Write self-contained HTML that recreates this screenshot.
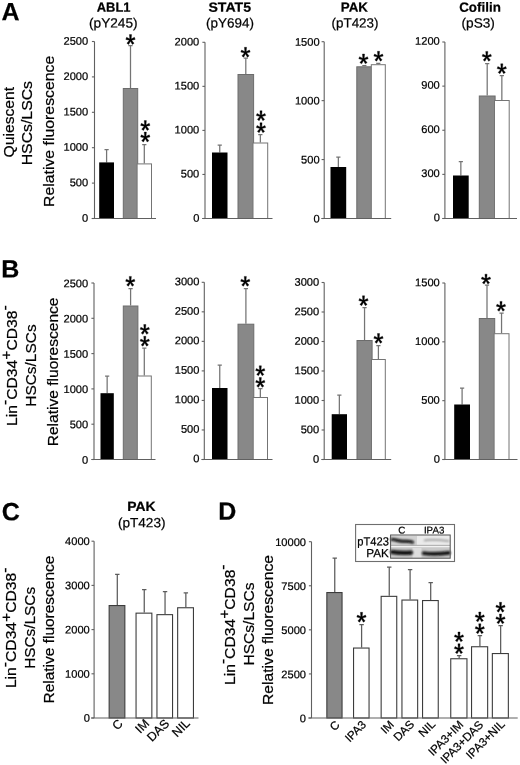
<!DOCTYPE html>
<html><head><meta charset="utf-8"><title>Figure</title>
<style>
html,body{margin:0;padding:0;background:#fff;}
body{width:520px;height:765px;overflow:hidden;font-family:"Liberation Sans", sans-serif;}
svg{display:block;font-family:"Liberation Sans", sans-serif;will-change:transform;opacity:0.999;}
text{fill:#000;stroke:#000;stroke-width:0.22px;}
</style></head><body>
<svg width="520" height="765" viewBox="0 0 520 765">
<defs>
<filter id="bl" x="-10%" y="-50%" width="120%" height="200%"><feGaussianBlur stdDeviation="0.85"/></filter>
<filter id="bl2" x="-10%" y="-30%" width="120%" height="160%"><feGaussianBlur stdDeviation="0.6"/></filter>
<g id="st"><path transform="translate(-0.2 0.15)" d="M0.60 0.30 L1.08 -5.35 L-1.07 -5.35 L-0.60 0.30ZM-0.08 0.67 L4.69 -0.56 L3.95 -2.58 L-0.49 -0.46ZM-0.66 0.10 L1.84 4.51 L3.61 3.27 L0.32 -0.59ZM-0.32 -0.59 L-3.61 3.27 L-1.84 4.51 L0.66 0.10ZM0.49 -0.46 L-3.95 -2.58 L-4.69 -0.56 L0.08 0.67Z" fill="#000" stroke="#000" stroke-width="0.35" stroke-linejoin="round"/></g>
</defs>
<rect width="520" height="765" fill="#fff"/>
<path d="M106.60 162.40V149.50M104.50 149.50H108.70" stroke="#747474" stroke-width="1.25" fill="none"/>
<rect x="99.20" y="162.40" width="14.80" height="56.10" fill="#000"/>
<path d="M130.50 88.00V45.50M128.40 45.50H132.60" stroke="#747474" stroke-width="1.25" fill="none"/>
<rect x="123.30" y="88.50" width="14.40" height="130.00" fill="#888" stroke="#6c6c6c" stroke-width="1"/>
<path d="M144.30 163.40V144.50M142.20 144.50H146.40" stroke="#747474" stroke-width="1.25" fill="none"/>
<rect x="137.10" y="163.90" width="14.40" height="54.60" fill="#fff" stroke="#747474" stroke-width="1"/>
<line x1="94.5" y1="41.5" x2="94.5" y2="218.5" stroke="#606060" stroke-width="1.1"/>
<line x1="91.7" y1="218.5" x2="156" y2="218.5" stroke="#606060" stroke-width="1.1"/>
<line x1="91.9" y1="41.5" x2="94.5" y2="41.5" stroke="#606060" stroke-width="1.1"/>
<text transform="translate(88.15 44.65) rotate(0.04)" font-size="11.1" text-anchor="end">2500</text>
<line x1="91.9" y1="76.9" x2="94.5" y2="76.9" stroke="#606060" stroke-width="1.1"/>
<text transform="translate(88.15 80.05) rotate(0.04)" font-size="11.1" text-anchor="end">2000</text>
<line x1="91.9" y1="112.3" x2="94.5" y2="112.3" stroke="#606060" stroke-width="1.1"/>
<text transform="translate(88.15 115.45) rotate(0.04)" font-size="11.1" text-anchor="end">1500</text>
<line x1="91.9" y1="147.7" x2="94.5" y2="147.7" stroke="#606060" stroke-width="1.1"/>
<text transform="translate(88.15 150.85) rotate(0.04)" font-size="11.1" text-anchor="end">1000</text>
<line x1="91.9" y1="183.1" x2="94.5" y2="183.1" stroke="#606060" stroke-width="1.1"/>
<text transform="translate(88.15 186.25) rotate(0.04)" font-size="11.1" text-anchor="end">500</text>
<line x1="91.9" y1="218.5" x2="94.5" y2="218.5" stroke="#606060" stroke-width="1.1"/>
<text transform="translate(88.15 221.65) rotate(0.04)" font-size="11.1" text-anchor="end">0</text>
<use href="#st" x="130.70" y="39.80"/>
<use href="#st" x="145.50" y="125.80"/>
<use href="#st" x="145.50" y="137.30"/>
<path d="M219.75 152.50V145.00M217.65 145.00H221.85" stroke="#747474" stroke-width="1.25" fill="none"/>
<rect x="212.00" y="152.50" width="15.50" height="66.00" fill="#000"/>
<path d="M245.80 74.00V58.00M243.70 58.00H247.90" stroke="#747474" stroke-width="1.25" fill="none"/>
<rect x="238.00" y="74.50" width="15.60" height="144.00" fill="#888" stroke="#6c6c6c" stroke-width="1"/>
<path d="M260.35 142.50V134.50M258.25 134.50H262.45" stroke="#747474" stroke-width="1.25" fill="none"/>
<rect x="253.00" y="143.00" width="14.70" height="75.50" fill="#fff" stroke="#747474" stroke-width="1"/>
<line x1="205.0" y1="42.3" x2="205.0" y2="218.5" stroke="#606060" stroke-width="1.1"/>
<line x1="202.2" y1="218.5" x2="272.5" y2="218.5" stroke="#606060" stroke-width="1.1"/>
<line x1="202.4" y1="42.3" x2="205.0" y2="42.3" stroke="#606060" stroke-width="1.1"/>
<text transform="translate(199.30 45.45) rotate(0.04)" font-size="11.1" text-anchor="end">2000</text>
<line x1="202.4" y1="86.35" x2="205.0" y2="86.35" stroke="#606060" stroke-width="1.1"/>
<text transform="translate(199.30 89.50) rotate(0.04)" font-size="11.1" text-anchor="end">1500</text>
<line x1="202.4" y1="130.39999999999998" x2="205.0" y2="130.39999999999998" stroke="#606060" stroke-width="1.1"/>
<text transform="translate(199.30 133.55) rotate(0.04)" font-size="11.1" text-anchor="end">1000</text>
<line x1="202.4" y1="174.45" x2="205.0" y2="174.45" stroke="#606060" stroke-width="1.1"/>
<text transform="translate(199.30 177.60) rotate(0.04)" font-size="11.1" text-anchor="end">500</text>
<line x1="202.4" y1="218.5" x2="205.0" y2="218.5" stroke="#606060" stroke-width="1.1"/>
<text transform="translate(199.30 221.65) rotate(0.04)" font-size="11.1" text-anchor="end">0</text>
<use href="#st" x="245.70" y="52.50"/>
<use href="#st" x="261.20" y="116.00"/>
<use href="#st" x="261.20" y="128.00"/>
<path d="M338.35 167.00V157.00M336.25 157.00H340.45" stroke="#747474" stroke-width="1.25" fill="none"/>
<rect x="330.50" y="167.00" width="15.70" height="51.50" fill="#000"/>
<path d="M364.35 66.30V65.50M362.25 65.50H366.45" stroke="#747474" stroke-width="1.25" fill="none"/>
<rect x="356.80" y="66.80" width="15.10" height="151.70" fill="#888" stroke="#6c6c6c" stroke-width="1"/>
<path d="M378.30 64.20V63.40M376.20 63.40H380.40" stroke="#747474" stroke-width="1.25" fill="none"/>
<rect x="371.30" y="64.70" width="14.00" height="153.80" fill="#fff" stroke="#747474" stroke-width="1"/>
<line x1="324.2" y1="41.7" x2="324.2" y2="218.5" stroke="#606060" stroke-width="1.1"/>
<line x1="321.4" y1="218.5" x2="391.2" y2="218.5" stroke="#606060" stroke-width="1.1"/>
<line x1="321.59999999999997" y1="41.7" x2="324.2" y2="41.7" stroke="#606060" stroke-width="1.1"/>
<text transform="translate(319.60 45.65) rotate(0.04)" font-size="11.1" text-anchor="end">1500</text>
<line x1="321.59999999999997" y1="100.63333333333334" x2="324.2" y2="100.63333333333334" stroke="#606060" stroke-width="1.1"/>
<text transform="translate(319.60 104.58) rotate(0.04)" font-size="11.1" text-anchor="end">1000</text>
<line x1="321.59999999999997" y1="159.56666666666666" x2="324.2" y2="159.56666666666666" stroke="#606060" stroke-width="1.1"/>
<text transform="translate(319.60 163.52) rotate(0.04)" font-size="11.1" text-anchor="end">500</text>
<line x1="321.59999999999997" y1="218.50000000000006" x2="324.2" y2="218.50000000000006" stroke="#606060" stroke-width="1.1"/>
<text transform="translate(319.60 222.45) rotate(0.04)" font-size="11.1" text-anchor="end">0</text>
<use href="#st" x="363.70" y="59.20"/>
<use href="#st" x="378.70" y="56.50"/>
<path d="M460.85 175.50V161.70M458.75 161.70H462.95" stroke="#747474" stroke-width="1.25" fill="none"/>
<rect x="453.00" y="175.50" width="15.70" height="43.00" fill="#000"/>
<path d="M487.20 95.50V63.70M485.10 63.70H489.30" stroke="#747474" stroke-width="1.25" fill="none"/>
<rect x="479.30" y="96.00" width="15.80" height="122.50" fill="#888" stroke="#6c6c6c" stroke-width="1"/>
<path d="M501.85 100.00V75.50M499.75 75.50H503.95" stroke="#747474" stroke-width="1.25" fill="none"/>
<rect x="494.50" y="100.50" width="14.70" height="118.00" fill="#fff" stroke="#747474" stroke-width="1"/>
<line x1="444.9" y1="42" x2="444.9" y2="218.5" stroke="#606060" stroke-width="1.1"/>
<line x1="442.5" y1="218.5" x2="517" y2="218.5" stroke="#606060" stroke-width="1.1"/>
<line x1="442.29999999999995" y1="42.0" x2="444.9" y2="42.0" stroke="#606060" stroke-width="1.1"/>
<text transform="translate(439.80 44.65) rotate(0.04)" font-size="11.1" text-anchor="end">1200</text>
<line x1="442.29999999999995" y1="86.125" x2="444.9" y2="86.125" stroke="#606060" stroke-width="1.1"/>
<text transform="translate(439.80 88.78) rotate(0.04)" font-size="11.1" text-anchor="end">900</text>
<line x1="442.29999999999995" y1="130.25" x2="444.9" y2="130.25" stroke="#606060" stroke-width="1.1"/>
<text transform="translate(439.80 132.90) rotate(0.04)" font-size="11.1" text-anchor="end">600</text>
<line x1="442.29999999999995" y1="174.375" x2="444.9" y2="174.375" stroke="#606060" stroke-width="1.1"/>
<text transform="translate(439.80 177.03) rotate(0.04)" font-size="11.1" text-anchor="end">300</text>
<line x1="442.29999999999995" y1="218.5" x2="444.9" y2="218.5" stroke="#606060" stroke-width="1.1"/>
<text transform="translate(439.80 221.15) rotate(0.04)" font-size="11.1" text-anchor="end">0</text>
<use href="#st" x="487.00" y="56.60"/>
<use href="#st" x="502.00" y="69.00"/>
<path d="M107.15 393.20V376.20M105.05 376.20H109.25" stroke="#747474" stroke-width="1.25" fill="none"/>
<rect x="100.50" y="393.20" width="13.30" height="66.30" fill="#000"/>
<path d="M130.60 305.50V288.70M128.50 288.70H132.70" stroke="#747474" stroke-width="1.25" fill="none"/>
<rect x="123.30" y="306.00" width="14.60" height="153.50" fill="#888" stroke="#6c6c6c" stroke-width="1"/>
<path d="M144.30 375.50V348.20M142.20 348.20H146.40" stroke="#747474" stroke-width="1.25" fill="none"/>
<rect x="137.30" y="376.00" width="14.00" height="83.50" fill="#fff" stroke="#747474" stroke-width="1"/>
<line x1="94.0" y1="283" x2="94.0" y2="459.5" stroke="#606060" stroke-width="1.1"/>
<line x1="91.5" y1="459.5" x2="155.5" y2="459.5" stroke="#606060" stroke-width="1.1"/>
<line x1="91.4" y1="283.0" x2="94.0" y2="283.0" stroke="#606060" stroke-width="1.1"/>
<text transform="translate(88.20 287.15) rotate(0.04)" font-size="11.1" text-anchor="end">2500</text>
<line x1="91.4" y1="318.3" x2="94.0" y2="318.3" stroke="#606060" stroke-width="1.1"/>
<text transform="translate(88.20 322.45) rotate(0.04)" font-size="11.1" text-anchor="end">2000</text>
<line x1="91.4" y1="353.6" x2="94.0" y2="353.6" stroke="#606060" stroke-width="1.1"/>
<text transform="translate(88.20 357.75) rotate(0.04)" font-size="11.1" text-anchor="end">1500</text>
<line x1="91.4" y1="388.9" x2="94.0" y2="388.9" stroke="#606060" stroke-width="1.1"/>
<text transform="translate(88.20 393.05) rotate(0.04)" font-size="11.1" text-anchor="end">1000</text>
<line x1="91.4" y1="424.2" x2="94.0" y2="424.2" stroke="#606060" stroke-width="1.1"/>
<text transform="translate(88.20 428.35) rotate(0.04)" font-size="11.1" text-anchor="end">500</text>
<line x1="91.4" y1="459.5" x2="94.0" y2="459.5" stroke="#606060" stroke-width="1.1"/>
<text transform="translate(88.20 463.65) rotate(0.04)" font-size="11.1" text-anchor="end">0</text>
<use href="#st" x="130.50" y="281.60"/>
<use href="#st" x="145.00" y="329.70"/>
<use href="#st" x="145.00" y="341.50"/>
<path d="M219.75 388.00V365.00M217.65 365.00H221.85" stroke="#747474" stroke-width="1.25" fill="none"/>
<rect x="212.00" y="388.00" width="15.50" height="71.50" fill="#000"/>
<path d="M245.90 323.70V288.70M243.80 288.70H248.00" stroke="#747474" stroke-width="1.25" fill="none"/>
<rect x="238.00" y="324.20" width="15.80" height="135.30" fill="#888" stroke="#6c6c6c" stroke-width="1"/>
<path d="M260.35 397.00V388.70M258.25 388.70H262.45" stroke="#747474" stroke-width="1.25" fill="none"/>
<rect x="253.20" y="397.50" width="14.30" height="62.00" fill="#fff" stroke="#747474" stroke-width="1"/>
<line x1="204.3" y1="282.3" x2="204.3" y2="459.5" stroke="#606060" stroke-width="1.1"/>
<line x1="201.5" y1="459.5" x2="272.5" y2="459.5" stroke="#606060" stroke-width="1.1"/>
<line x1="201.70000000000002" y1="282.3" x2="204.3" y2="282.3" stroke="#606060" stroke-width="1.1"/>
<text transform="translate(199.45 285.15) rotate(0.04)" font-size="11.1" text-anchor="end">3000</text>
<line x1="201.70000000000002" y1="311.83333333333337" x2="204.3" y2="311.83333333333337" stroke="#606060" stroke-width="1.1"/>
<text transform="translate(199.45 314.68) rotate(0.04)" font-size="11.1" text-anchor="end">2500</text>
<line x1="201.70000000000002" y1="341.3666666666667" x2="204.3" y2="341.3666666666667" stroke="#606060" stroke-width="1.1"/>
<text transform="translate(199.45 344.22) rotate(0.04)" font-size="11.1" text-anchor="end">2000</text>
<line x1="201.70000000000002" y1="370.9" x2="204.3" y2="370.9" stroke="#606060" stroke-width="1.1"/>
<text transform="translate(199.45 373.75) rotate(0.04)" font-size="11.1" text-anchor="end">1500</text>
<line x1="201.70000000000002" y1="400.43333333333334" x2="204.3" y2="400.43333333333334" stroke="#606060" stroke-width="1.1"/>
<text transform="translate(199.45 403.28) rotate(0.04)" font-size="11.1" text-anchor="end">1000</text>
<line x1="201.70000000000002" y1="429.9666666666667" x2="204.3" y2="429.9666666666667" stroke="#606060" stroke-width="1.1"/>
<text transform="translate(199.45 432.82) rotate(0.04)" font-size="11.1" text-anchor="end">500</text>
<line x1="201.70000000000002" y1="459.5" x2="204.3" y2="459.5" stroke="#606060" stroke-width="1.1"/>
<text transform="translate(199.45 462.35) rotate(0.04)" font-size="11.1" text-anchor="end">0</text>
<use href="#st" x="245.50" y="281.60"/>
<use href="#st" x="260.50" y="371.00"/>
<use href="#st" x="260.50" y="382.70"/>
<path d="M339.35 414.20V395.00M337.25 395.00H341.45" stroke="#747474" stroke-width="1.25" fill="none"/>
<rect x="331.70" y="414.20" width="15.30" height="45.30" fill="#000"/>
<path d="M364.55 340.00V307.50M362.45 307.50H366.65" stroke="#747474" stroke-width="1.25" fill="none"/>
<rect x="357.00" y="340.50" width="15.10" height="119.00" fill="#888" stroke="#6c6c6c" stroke-width="1"/>
<path d="M378.40 359.00V345.50M376.30 345.50H380.50" stroke="#747474" stroke-width="1.25" fill="none"/>
<rect x="371.50" y="359.50" width="13.80" height="100.00" fill="#fff" stroke="#747474" stroke-width="1"/>
<line x1="324.2" y1="282.5" x2="324.2" y2="459.5" stroke="#606060" stroke-width="1.1"/>
<line x1="321.4" y1="459.5" x2="391.2" y2="459.5" stroke="#606060" stroke-width="1.1"/>
<line x1="321.59999999999997" y1="282.5" x2="324.2" y2="282.5" stroke="#606060" stroke-width="1.1"/>
<text transform="translate(319.20 285.75) rotate(0.04)" font-size="11.1" text-anchor="end">3000</text>
<line x1="321.59999999999997" y1="312.0" x2="324.2" y2="312.0" stroke="#606060" stroke-width="1.1"/>
<text transform="translate(319.20 315.25) rotate(0.04)" font-size="11.1" text-anchor="end">2500</text>
<line x1="321.59999999999997" y1="341.5" x2="324.2" y2="341.5" stroke="#606060" stroke-width="1.1"/>
<text transform="translate(319.20 344.75) rotate(0.04)" font-size="11.1" text-anchor="end">2000</text>
<line x1="321.59999999999997" y1="371.0" x2="324.2" y2="371.0" stroke="#606060" stroke-width="1.1"/>
<text transform="translate(319.20 374.25) rotate(0.04)" font-size="11.1" text-anchor="end">1500</text>
<line x1="321.59999999999997" y1="400.5" x2="324.2" y2="400.5" stroke="#606060" stroke-width="1.1"/>
<text transform="translate(319.20 403.75) rotate(0.04)" font-size="11.1" text-anchor="end">1000</text>
<line x1="321.59999999999997" y1="430.0" x2="324.2" y2="430.0" stroke="#606060" stroke-width="1.1"/>
<text transform="translate(319.20 433.25) rotate(0.04)" font-size="11.1" text-anchor="end">500</text>
<line x1="321.59999999999997" y1="459.5" x2="324.2" y2="459.5" stroke="#606060" stroke-width="1.1"/>
<text transform="translate(319.20 462.75) rotate(0.04)" font-size="11.1" text-anchor="end">0</text>
<use href="#st" x="363.70" y="301.00"/>
<use href="#st" x="378.70" y="338.70"/>
<path d="M462.10 404.50V388.20M460.00 388.20H464.20" stroke="#747474" stroke-width="1.25" fill="none"/>
<rect x="454.20" y="404.50" width="15.80" height="55.00" fill="#000"/>
<path d="M487.00 318.00V285.00M484.90 285.00H489.10" stroke="#747474" stroke-width="1.25" fill="none"/>
<rect x="479.30" y="318.50" width="15.40" height="141.00" fill="#888" stroke="#6c6c6c" stroke-width="1"/>
<path d="M501.55 333.20V313.00M499.45 313.00H503.65" stroke="#747474" stroke-width="1.25" fill="none"/>
<rect x="494.10" y="333.70" width="14.90" height="125.80" fill="#fff" stroke="#747474" stroke-width="1"/>
<line x1="444.9" y1="283" x2="444.9" y2="459.5" stroke="#606060" stroke-width="1.1"/>
<line x1="442.4" y1="459.5" x2="517.5" y2="459.5" stroke="#606060" stroke-width="1.1"/>
<line x1="442.29999999999995" y1="283.0" x2="444.9" y2="283.0" stroke="#606060" stroke-width="1.1"/>
<text transform="translate(439.80 286.15) rotate(0.04)" font-size="11.1" text-anchor="end">1500</text>
<line x1="442.29999999999995" y1="341.8333333333333" x2="444.9" y2="341.8333333333333" stroke="#606060" stroke-width="1.1"/>
<text transform="translate(439.80 344.98) rotate(0.04)" font-size="11.1" text-anchor="end">1000</text>
<line x1="442.29999999999995" y1="400.6666666666667" x2="444.9" y2="400.6666666666667" stroke="#606060" stroke-width="1.1"/>
<text transform="translate(439.80 403.82) rotate(0.04)" font-size="11.1" text-anchor="end">500</text>
<line x1="442.29999999999995" y1="459.5" x2="444.9" y2="459.5" stroke="#606060" stroke-width="1.1"/>
<text transform="translate(439.80 462.65) rotate(0.04)" font-size="11.1" text-anchor="end">0</text>
<use href="#st" x="486.20" y="279.40"/>
<use href="#st" x="501.20" y="306.60"/>
<path d="M117.30 605.00V574.30M115.10 574.30H119.50" stroke="#5c5c5c" stroke-width="1.25" fill="none"/>
<rect x="109.15" y="605.55" width="15.70" height="112.45" fill="#888" stroke="#3c3c3c" stroke-width="1.1"/>
<path d="M144.25 612.60V589.60M142.05 589.60H146.45" stroke="#5c5c5c" stroke-width="1.25" fill="none"/>
<rect x="136.05" y="613.15" width="15.80" height="104.85" fill="#fff" stroke="#3c3c3c" stroke-width="1.1"/>
<path d="M165.05 614.10V591.50M162.85 591.50H167.25" stroke="#5c5c5c" stroke-width="1.25" fill="none"/>
<rect x="156.95" y="614.65" width="15.60" height="103.35" fill="#fff" stroke="#3c3c3c" stroke-width="1.1"/>
<path d="M185.85 607.20V592.90M183.65 592.90H188.05" stroke="#5c5c5c" stroke-width="1.25" fill="none"/>
<rect x="177.65" y="607.75" width="15.80" height="110.25" fill="#fff" stroke="#3c3c3c" stroke-width="1.1"/>
<line x1="94.1" y1="541.2" x2="94.1" y2="718" stroke="#606060" stroke-width="1.1"/>
<line x1="91" y1="718" x2="198.5" y2="718" stroke="#606060" stroke-width="1.1"/>
<line x1="91.5" y1="541.2" x2="94.1" y2="541.2" stroke="#606060" stroke-width="1.1"/>
<text transform="translate(89.80 545.05) rotate(0.04)" font-size="11.1" text-anchor="end">4000</text>
<line x1="91.5" y1="585.4000000000001" x2="94.1" y2="585.4000000000001" stroke="#606060" stroke-width="1.1"/>
<text transform="translate(89.80 589.25) rotate(0.04)" font-size="11.1" text-anchor="end">3000</text>
<line x1="91.5" y1="629.6" x2="94.1" y2="629.6" stroke="#606060" stroke-width="1.1"/>
<text transform="translate(89.80 633.45) rotate(0.04)" font-size="11.1" text-anchor="end">2000</text>
<line x1="91.5" y1="673.8" x2="94.1" y2="673.8" stroke="#606060" stroke-width="1.1"/>
<text transform="translate(89.80 677.65) rotate(0.04)" font-size="11.1" text-anchor="end">1000</text>
<line x1="91.5" y1="718.0" x2="94.1" y2="718.0" stroke="#606060" stroke-width="1.1"/>
<text transform="translate(89.80 721.85) rotate(0.04)" font-size="11.1" text-anchor="end">0</text>
<text transform="translate(123.50 724.30) rotate(-45)" font-size="12.4" text-anchor="end">C</text>
<text transform="translate(150.00 724.30) rotate(-45)" font-size="12.4" text-anchor="end">IM</text>
<text transform="translate(170.00 724.30) rotate(-45)" font-size="12.4" text-anchor="end">DAS</text>
<text transform="translate(190.70 724.00) rotate(-45)" font-size="12.4" text-anchor="end">NIL</text>
<path d="M334.75 592.00V558.20M332.55 558.20H336.95" stroke="#5c5c5c" stroke-width="1.25" fill="none"/>
<rect x="326.85" y="592.55" width="15.20" height="125.45" fill="#888" stroke="#3c3c3c" stroke-width="1.1"/>
<path d="M361.60 647.50V624.50M359.40 624.50H363.80" stroke="#5c5c5c" stroke-width="1.25" fill="none"/>
<rect x="353.55" y="648.05" width="15.50" height="69.95" fill="#fff" stroke="#3c3c3c" stroke-width="1.1"/>
<path d="M389.25 595.80V567.00M387.05 567.00H391.45" stroke="#5c5c5c" stroke-width="1.25" fill="none"/>
<rect x="381.15" y="596.35" width="15.60" height="121.65" fill="#fff" stroke="#3c3c3c" stroke-width="1.1"/>
<path d="M410.10 599.50V569.50M407.90 569.50H412.30" stroke="#5c5c5c" stroke-width="1.25" fill="none"/>
<rect x="401.95" y="600.05" width="15.70" height="117.95" fill="#fff" stroke="#3c3c3c" stroke-width="1.1"/>
<path d="M430.70 600.00V582.50M428.50 582.50H432.90" stroke="#5c5c5c" stroke-width="1.25" fill="none"/>
<rect x="422.55" y="600.55" width="15.70" height="117.45" fill="#fff" stroke="#3c3c3c" stroke-width="1.1"/>
<path d="M459.15 658.20V655.50M456.95 655.50H461.35" stroke="#5c5c5c" stroke-width="1.25" fill="none"/>
<rect x="450.75" y="658.75" width="16.20" height="59.25" fill="#fff" stroke="#3c3c3c" stroke-width="1.1"/>
<path d="M479.90 646.20V635.50M477.70 635.50H482.10" stroke="#5c5c5c" stroke-width="1.25" fill="none"/>
<rect x="471.55" y="646.75" width="16.10" height="71.25" fill="#fff" stroke="#3c3c3c" stroke-width="1.1"/>
<path d="M500.65 653.00V625.50M498.45 625.50H502.85" stroke="#5c5c5c" stroke-width="1.25" fill="none"/>
<rect x="492.35" y="653.55" width="16.00" height="64.45" fill="#fff" stroke="#3c3c3c" stroke-width="1.1"/>
<line x1="311.5" y1="541.7" x2="311.5" y2="718" stroke="#606060" stroke-width="1.1"/>
<line x1="308.2" y1="718" x2="517.7" y2="718" stroke="#606060" stroke-width="1.1"/>
<line x1="308.9" y1="541.7" x2="311.5" y2="541.7" stroke="#606060" stroke-width="1.1"/>
<text transform="translate(306.00 545.95) rotate(0.04)" font-size="11.1" text-anchor="end">10000</text>
<line x1="308.9" y1="585.7750000000001" x2="311.5" y2="585.7750000000001" stroke="#606060" stroke-width="1.1"/>
<text transform="translate(306.00 590.03) rotate(0.04)" font-size="11.1" text-anchor="end">7500</text>
<line x1="308.9" y1="629.85" x2="311.5" y2="629.85" stroke="#606060" stroke-width="1.1"/>
<text transform="translate(306.00 634.10) rotate(0.04)" font-size="11.1" text-anchor="end">5000</text>
<line x1="308.9" y1="673.925" x2="311.5" y2="673.925" stroke="#606060" stroke-width="1.1"/>
<text transform="translate(306.00 678.17) rotate(0.04)" font-size="11.1" text-anchor="end">2500</text>
<line x1="308.9" y1="718.0" x2="311.5" y2="718.0" stroke="#606060" stroke-width="1.1"/>
<text transform="translate(306.00 722.25) rotate(0.04)" font-size="11.1" text-anchor="end">0</text>
<use href="#st" x="361.70" y="617.50"/>
<use href="#st" x="459.20" y="637.20"/>
<use href="#st" x="459.20" y="649.00"/>
<use href="#st" x="480.00" y="617.20"/>
<use href="#st" x="480.00" y="629.00"/>
<use href="#st" x="500.70" y="607.50"/>
<use href="#st" x="500.70" y="619.20"/>
<text transform="translate(340.30 725.70) rotate(-45)" font-size="11.6" text-anchor="end">C</text>
<text transform="translate(366.80 725.50) rotate(-45)" font-size="11.6" text-anchor="end">IPA3</text>
<text transform="translate(394.70 725.30) rotate(-45)" font-size="11.6" text-anchor="end">IM</text>
<text transform="translate(415.00 725.00) rotate(-45)" font-size="11.6" text-anchor="end">DAS</text>
<text transform="translate(436.00 725.00) rotate(-45)" font-size="11.6" text-anchor="end">NIL</text>
<text transform="translate(464.00 725.50) rotate(-45)" font-size="11.6" text-anchor="end">IPA3+IM</text>
<text transform="translate(484.00 725.50) rotate(-45)" font-size="11.6" text-anchor="end">IPA3+DAS</text>
<text transform="translate(505.50 725.00) rotate(-45)" font-size="11.6" text-anchor="end">IPA3+NIL</text>
<text transform="translate(113.6 11.7) rotate(0.04)" font-size="13.3" font-weight="bold" text-anchor="middle" textLength="33.8" lengthAdjust="spacingAndGlyphs">ABL1</text>
<text transform="translate(113.3 27.5) rotate(0.04)" font-size="13.4" text-anchor="middle" textLength="48.6" lengthAdjust="spacingAndGlyphs">(pY245)</text>
<text transform="translate(229.7 11.7) rotate(0.04)" font-size="13.3" font-weight="bold" text-anchor="middle" textLength="42.6" lengthAdjust="spacingAndGlyphs">STAT5</text>
<text transform="translate(230 27.5) rotate(0.04)" font-size="13.4" text-anchor="middle" textLength="47.8" lengthAdjust="spacingAndGlyphs">(pY694)</text>
<text transform="translate(354.4 11.7) rotate(0.04)" font-size="13.3" font-weight="bold" text-anchor="middle" textLength="27.2" lengthAdjust="spacingAndGlyphs">PAK</text>
<text transform="translate(355 27.5) rotate(0.04)" font-size="13.4" text-anchor="middle" textLength="47" lengthAdjust="spacingAndGlyphs">(pT423)</text>
<text transform="translate(480 11.7) rotate(0.04)" font-size="13.3" font-weight="bold" text-anchor="middle" textLength="41.6" lengthAdjust="spacingAndGlyphs">Cofilin</text>
<text transform="translate(478.2 27.5) rotate(0.04)" font-size="13.4" text-anchor="middle" textLength="33.4" lengthAdjust="spacingAndGlyphs">(pS3)</text>
<text transform="translate(141.5 510.9) rotate(0.04)" font-size="13.3" font-weight="bold" text-anchor="middle" textLength="28.3" lengthAdjust="spacingAndGlyphs">PAK</text>
<text transform="translate(141.7 527.3) rotate(0.04)" font-size="13.4" text-anchor="middle" textLength="47.6" lengthAdjust="spacingAndGlyphs">(pT423)</text>
<text transform="translate(1.4 20.2) rotate(0.04)" font-size="25" font-weight="bold">A</text>
<text transform="translate(1.3 277.6) rotate(0.04)" font-size="25" font-weight="bold">B</text>
<text transform="translate(1.8 520.3) rotate(0.04)" font-size="25" font-weight="bold">C</text>
<text transform="translate(218.3 519.7) rotate(0.04)" font-size="25" font-weight="bold">D</text>
<text transform="translate(13.50 157.40) rotate(-90)" font-size="15.5" text-anchor="start" textLength="70.5" lengthAdjust="spacingAndGlyphs">Quiescent</text>
<text transform="translate(32.30 165.30) rotate(-90)" font-size="15.5" text-anchor="start" textLength="84.3" lengthAdjust="spacingAndGlyphs">HSCs/LSCs</text>
<text transform="translate(54.40 207.00) rotate(-90)" font-size="15.5" text-anchor="start" textLength="151.3" lengthAdjust="spacingAndGlyphs">Relative fluorescence</text>
<text transform="translate(16.60 425.90) rotate(-90)" font-size="15.5" text-anchor="start" textLength="120.6" lengthAdjust="spacingAndGlyphs">Lin<tspan dy="-6.5">-</tspan><tspan dy="6.5">CD34</tspan><tspan dy="-5.5">+</tspan><tspan dy="5.5">CD38</tspan><tspan dy="-6.5">-</tspan></text>
<text transform="translate(35.50 406.70) rotate(-90)" font-size="15.5" text-anchor="start" textLength="82.3" lengthAdjust="spacingAndGlyphs">HSCs/LSCs</text>
<text transform="translate(58.30 446.30) rotate(-90)" font-size="15.5" text-anchor="start" textLength="148.8" lengthAdjust="spacingAndGlyphs">Relative fluorescence</text>
<text transform="translate(16.40 688.10) rotate(-90)" font-size="15.5" text-anchor="start" textLength="120.6" lengthAdjust="spacingAndGlyphs">Lin<tspan dy="-6.5">-</tspan><tspan dy="6.5">CD34</tspan><tspan dy="-5.5">+</tspan><tspan dy="5.5">CD38</tspan><tspan dy="-6.5">-</tspan></text>
<text transform="translate(35.30 668.80) rotate(-90)" font-size="15.5" text-anchor="start" textLength="81.9" lengthAdjust="spacingAndGlyphs">HSCs/LSCs</text>
<text transform="translate(54.40 703.50) rotate(-90)" font-size="15.5" text-anchor="start" textLength="147.9" lengthAdjust="spacingAndGlyphs">Relative fluorescence</text>
<text transform="translate(234.80 685.00) rotate(-90)" font-size="15.5" text-anchor="start" textLength="120.6" lengthAdjust="spacingAndGlyphs">Lin<tspan dy="-6.5">-</tspan><tspan dy="6.5">CD34</tspan><tspan dy="-5.5">+</tspan><tspan dy="5.5">CD38</tspan><tspan dy="-6.5">-</tspan></text>
<text transform="translate(254.00 665.60) rotate(-90)" font-size="15.5" text-anchor="start" textLength="83.1" lengthAdjust="spacingAndGlyphs">HSCs/LSCs</text>
<text transform="translate(273.10 705.00) rotate(-90)" font-size="15.5" text-anchor="start" textLength="150" lengthAdjust="spacingAndGlyphs">Relative fluorescence</text>
<rect x="355.6" y="524.5" width="98.9" height="37" fill="#fff" stroke="#6e6e6e" stroke-width="1.1"/>
<text transform="translate(401.8 533.4) rotate(0.05)" font-size="9.8" text-anchor="middle" stroke-width="0.08">C</text>
<text transform="translate(434.1 533.4) rotate(0.05)" font-size="9.8" text-anchor="middle" stroke-width="0.08" textLength="20.4" lengthAdjust="spacingAndGlyphs">IPA3</text>
<text transform="translate(388.9 545.6) rotate(0.04)" font-size="12" text-anchor="end" textLength="31.6" lengthAdjust="spacingAndGlyphs">pT423</text>
<text transform="translate(388.9 557.2) rotate(0.04)" font-size="12" text-anchor="end" textLength="22.6" lengthAdjust="spacingAndGlyphs">PAK</text>
<g>
<rect x="390.6" y="535.2" width="59.4" height="22.8" fill="#ebebeb"/>
<g filter="url(#bl2)">
<rect x="391" y="536" width="26" height="10" fill="#d2d2d2"/>
<rect x="391" y="547.2" width="59" height="11" fill="#c9c9c9"/>
<rect x="412.5" y="548" width="9" height="10" fill="#dedede"/>
<rect x="391" y="544.8" width="59" height="1.2" fill="#b4b4b4"/>
<rect x="391" y="546.2" width="59" height="0.9" fill="#f4f4f4"/>
</g>
<g filter="url(#bl)">
<path d="M391.8 539.4 C395 539.2 398.5 541.3 402.5 541.3 S 407.5 540.6 412.6 542.2" stroke="#080808" stroke-width="2.9" fill="none" stroke-linecap="round"/>
<path d="M424.5 540.4 C430 539.2 436 539.8 441 540.2 S446 540.5 448.5 541" stroke="#8e8e8e" stroke-width="1.5" fill="none" stroke-linecap="round"/>
<path d="M392 552 C397 552.8 404 553 411 552.6" stroke="#080808" stroke-width="4.2" fill="none" stroke-linecap="round"/>
<path d="M423.6 553.2 C429 554 441 553.9 449 552.9" stroke="#0c0c0c" stroke-width="3.6" fill="none" stroke-linecap="round"/>
</g>
<rect x="390.6" y="535.0" width="59.6" height="23.2" fill="none" stroke="#505050" stroke-width="1"/>
</g>
</svg>
</body></html>
